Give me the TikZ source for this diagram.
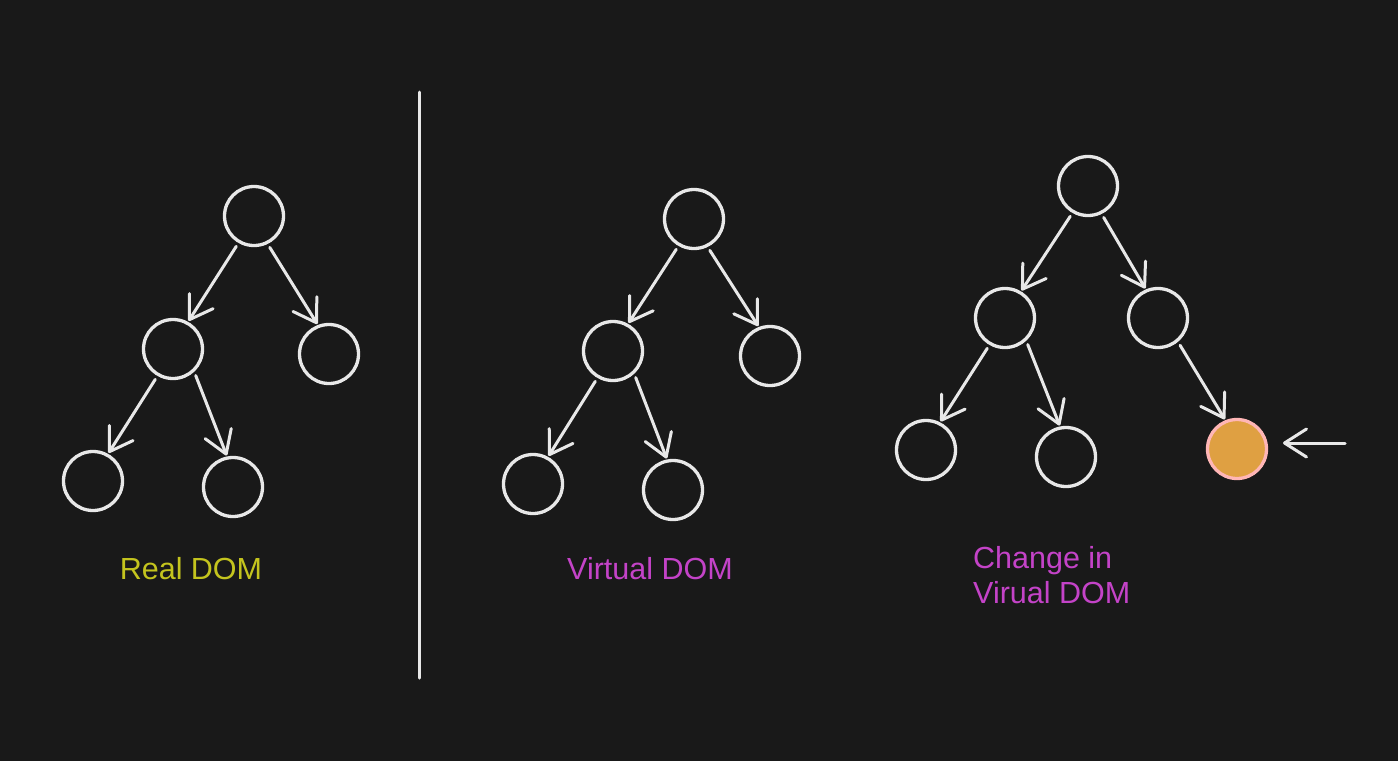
\documentclass[tikz,border=0pt]{standalone}
\usepackage{fontspec}
\setmainfont{Liberation Sans}
\usetikzlibrary{arrows.meta}
\definecolor{bg}{HTML}{191919}
\definecolor{ink}{HTML}{E8E8E8}
\definecolor{realc}{HTML}{C4C41E}
\definecolor{virtc}{HTML}{C443C8}
\definecolor{orangefill}{HTML}{DFA042}
\definecolor{pinkline}{HTML}{FFB6B6}
\tikzset{
  treenode/.style={circle, draw=ink, line width=3.3pt, minimum size=59pt, inner sep=0pt},
  changed/.style={treenode, draw=pinkline, fill=orangefill},
  link/.style={draw=ink, line width=3pt, line cap=round, shorten >=1pt, shorten <=4pt,
    -{Straight Barb[length=22pt, width=28pt, line width=3pt, round]}},
  lbl/.style={font=\fontsize{30.5}{35}\selectfont, inner sep=0pt}
}
\begin{document}
\begin{tikzpicture}[x=1pt,y=-1pt]
\fill[bg] (0,0) rectangle (1398,761);
\useasboundingbox (0,0) rectangle (1398,761);

% divider
\coordinate (d1) at (419,92);
\coordinate (d2) at (419,678);
\draw[ink, line width=3pt, line cap=round] (d1) -- (d2);

% Tree 1: Real DOM
\node[treenode] (a0) at (254,216) {};
\node[treenode] (a1) at (173,349) {};
\node[treenode] (a2) at (329,354) {};
\node[treenode] (a3) at (93,481) {};
\node[treenode] (a4) at (233,487) {};
\draw[link] (a0.-120) -- (a1.61);
\draw[link] (a0.-64) -- (a2.111);
\draw[link] (a1.-120) -- (a3.61);
\draw[link] (a1.-47) -- (a4.101);
\node[lbl, text=realc] (t1) at (191,569) {Real DOM};

% Tree 2: Virtual DOM
\node[treenode] (b0) at (694,219) {};
\node[treenode] (b1) at (613,351) {};
\node[treenode] (b2) at (770,356) {};
\node[treenode] (b3) at (533,484) {};
\node[treenode] (b4) at (673,490) {};
\draw[link] (b0.-120) -- (b1.61);
\draw[link] (b0.-64) -- (b2.111);
\draw[link] (b1.-120) -- (b3.61);
\draw[link] (b1.-47) -- (b4.101);
\node[lbl, text=virtc] (t2) at (650,569) {Virtual DOM};

% Tree 3: Change in Virtual DOM
\node[treenode] (c0) at (1088,186) {};
\node[treenode] (c1) at (1005,318) {};
\node[treenode] (c2) at (1158,318) {};
\node[treenode] (c3) at (926,450) {};
\node[treenode] (c4) at (1066,457) {};
\node[changed] (c5) at (1237,449) {};
\draw[link] (c0.-120) -- (c1.59);
\draw[link] (c0.-64) -- (c2.113);
\draw[link] (c1.-120) -- (c3.63);
\draw[link] (c1.-47) -- (c4.101);
\draw[link] (c2.-50) -- (c5.112);
\coordinate (p) at (1345,443);
\coordinate (q) at (1283,443);
\draw[link, shorten <=0pt, shorten >=0pt] (p) -- (q);
\node[lbl, text=virtc, anchor=north west, align=left] (t3) at (973,546) {Change in\\Virual DOM};
\end{tikzpicture}
\end{document}
